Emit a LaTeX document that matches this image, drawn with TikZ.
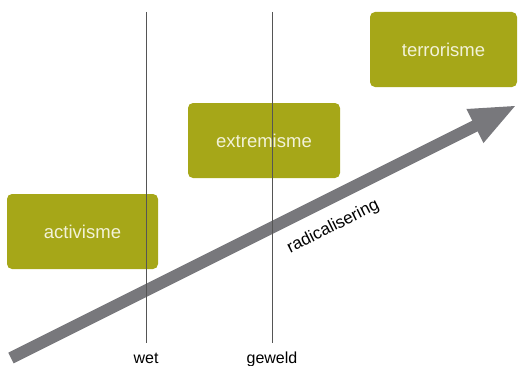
\documentclass[tikz,border=0pt]{standalone}
\usepackage{fontspec}
\setmainfont{Liberation Sans}
\usepackage{tikz}
\usetikzlibrary{positioning, arrows.meta}
\definecolor{boxFill}{RGB}{166, 167, 24}
\definecolor{boxText}{RGB}{242, 242, 216}
\definecolor{arrowGray}{RGB}{120, 120, 124}
\definecolor{lineGray}{RGB}{85, 85, 85}
\tikzset{
    fase_box/.style={
        rectangle,
        rounded corners=5pt,
        fill=boxFill,
        text=boxText,
        minimum height=75pt,
        font=\fontsize{18.5}{22}\selectfont
    },
    grens_line/.style={
        draw=lineGray,
        line width=0.8pt
    },
    grens_label/.style={
        anchor=base,
        inner sep=0pt,
        font=\fontsize{16}{19}\selectfont
    },
    radical_arrow/.style={
        -{Triangle[width=34pt, length=47pt]},
        line width=12pt,
        draw=arrowGray
    }
}

\begin{document}
\begin{tikzpicture}[x=1pt, y=1pt]
    \useasboundingbox (0,0) rectangle (518,365);

    \node[fase_box, minimum width=151pt] (act) at (82.5,133.5) {activisme};
    \node[fase_box, minimum width=152pt] (ext) at (264,224.5) {extremisme};
    \node[fase_box, minimum width=147pt] (ter) at (443.5,315.5) {terrorisme};

    \coordinate (tail) at (11,7);
    \coordinate (tip) at (517,260);
    \draw[radical_arrow] (tail) -- node[sloped, pos=0.613, below=13pt, inner sep=0pt,
        font=\fontsize{17}{20}\selectfont] (rad) {radicalisering} (tip);

    \node[grens_label] (wet) at (146,2) {wet};
    \node[grens_label] (geweld) at (272,2) {geweld};
    \coordinate (wettop) at (146,353);
    \coordinate (wetbot) at (146,22);
    \coordinate (geweldtop) at (272,353);
    \coordinate (geweldbot) at (272,22);
    \draw[grens_line] (wettop) -- (wetbot);
    \draw[grens_line] (geweldtop) -- (geweldbot);
\end{tikzpicture}
\end{document}
